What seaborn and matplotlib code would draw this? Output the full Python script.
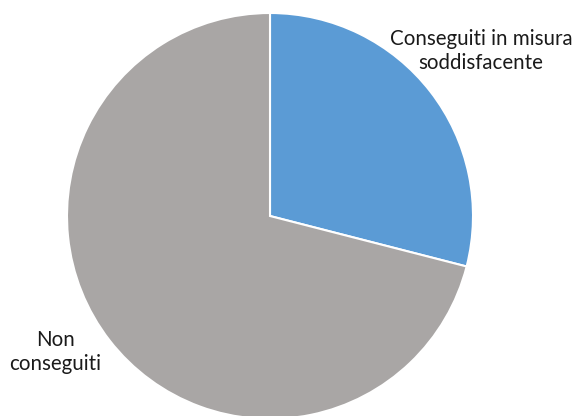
import matplotlib
matplotlib.use("Agg")
import matplotlib.pyplot as plt
import seaborn as sns

categories = ["Conseguiti in misura\nsoddisfacente", "Non\nconseguiti"]
values = [29, 71]
colors = ["#5B9BD5", "#A9A6A5"]

sns.set_theme(style="white")
plt.rcParams["font.family"] = ["Lato", "DejaVu Sans"]

fig = plt.figure(figsize=(5.77, 4.16), dpi=100)
ax = fig.add_axes([0, 0, 1, 1])

ax.pie(values, colors=colors, startangle=90, counterclock=False,
       wedgeprops=dict(edgecolor="white", linewidth=1.5))

# pie radius = 203 px, centre at (270, 216) px
r = 203.0
ax.set_xlim(-270 / r, (577 - 270) / r)
ax.set_ylim(-(416 - 216) / r, 216 / r)
ax.set_aspect("equal", adjustable="box")
ax.axis("off")

ax.text((481 - 270) / r, (216 - 51) / r, categories[0], ha="center", va="center",
        multialignment="center", fontsize=14.8, color="#1a1a1a", linespacing=1.2)
ax.text((55 - 270) / r, (216 - 352) / r, categories[1], ha="center", va="center",
        multialignment="center", fontsize=14.8, color="#1a1a1a", linespacing=1.2)

fig.savefig("out.png", dpi=100, facecolor="white")
